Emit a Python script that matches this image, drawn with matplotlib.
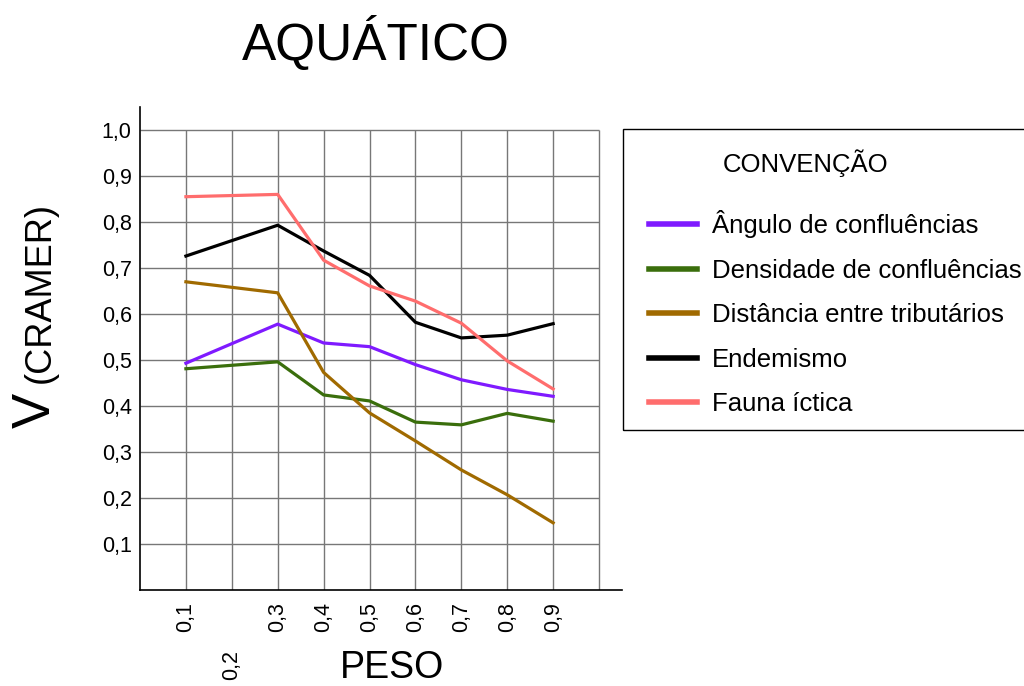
import matplotlib
matplotlib.use("Agg")
import matplotlib.pyplot as plt
from matplotlib.patches import Rectangle
from matplotlib.transforms import ScaledTranslation

plt.rcParams["font.family"] = ["Liberation Sans", "DejaVu Sans"]

# pesos avaliados (não há valor para 0,2)
peso = [0.1, 0.3, 0.4, 0.5, 0.6, 0.7, 0.8, 0.9]
x_ticks = [0.1, 0.2, 0.3, 0.4, 0.5, 0.6, 0.7, 0.8, 0.9]
x_tick_labels = ["0,1", "0,2", "0,3", "0,4", "0,5", "0,6", "0,7", "0,8", "0,9"]
y_ticks = [0.1, 0.2, 0.3, 0.4, 0.5, 0.6, 0.7, 0.8, 0.9, 1.0]
y_tick_labels = ["0,1", "0,2", "0,3", "0,4", "0,5", "0,6", "0,7", "0,8", "0,9", "1,0"]

angulo = [0.493, 0.578, 0.537, 0.529, 0.490, 0.457, 0.436, 0.421]
densidade = [0.481, 0.496, 0.424, 0.411, 0.365, 0.359, 0.384, 0.367]
distancia = [0.670, 0.646, 0.473, 0.385, 0.324, 0.261, 0.207, 0.146]
endemismo = [0.726, 0.793, 0.737, 0.684, 0.582, 0.548, 0.554, 0.579]
fauna = [0.855, 0.860, 0.717, 0.661, 0.628, 0.580, 0.498, 0.437]

series = [
    ("Ângulo de confluências", angulo, "#7f1aff"),
    ("Densidade de confluências", densidade, "#3a6e0c"),
    ("Distância entre tributários", distancia, "#a06a00"),
    ("Endemismo", endemismo, "#000000"),
    ("Fauna íctica", fauna, "#ff6d6d"),
]

fig = plt.figure(figsize=(10.24, 6.86), dpi=100)
ax = fig.add_axes([140 / 1024, 1 - 590 / 686, 482 / 1024, 483 / 686])
ax.set_xlim(0, 1.05)
ax.set_ylim(0, 1.05)

# grade só até 1,0
grid_pos = [0.1, 0.2, 0.3, 0.4, 0.5, 0.6, 0.7, 0.8, 0.9, 1.0]
ax.vlines(grid_pos, 0, 1.0, color="#777777", lw=1, zorder=1)
ax.hlines(grid_pos, 0, 1.0, color="#777777", lw=1, zorder=1)

for label, vals, color in series:
    ax.plot(peso, vals, color=color, lw=2.3, label=label, zorder=3)

ax.spines["top"].set_visible(False)
ax.spines["right"].set_visible(False)
ax.spines["left"].set_linewidth(1.2)
ax.spines["bottom"].set_linewidth(1.2)

ax.set_xticks(x_ticks)
ax.set_xticklabels(x_tick_labels, rotation=90, fontsize=15.5)
ax.set_yticks(y_ticks)
ax.set_yticklabels(y_tick_labels, fontsize=15.5)
ax.tick_params(axis="both", length=0)
ax.tick_params(axis="x", pad=9)
ax.tick_params(axis="y", pad=6)
# rótulo 0,2 deslocado para baixo
ax.xaxis.get_major_ticks()[1].set_pad(43)

fig.text(376 / 1024, 1 - 60 / 686, "AQUÁTICO", fontsize=37, ha="center", va="baseline")
fig.text(392 / 1024, 1 - 678 / 686, "PESO", fontsize=27, ha="center", va="baseline")
fig.text(50 / 1024, 1 - 428 / 686, "V", fontsize=38, rotation=90,
         rotation_mode="anchor", ha="left", va="baseline")
fig.text(50 / 1024, 1 - 383 / 686, "(CRAMER)", fontsize=26, rotation=90,
         rotation_mode="anchor", ha="left", va="baseline")

# caixa da legenda desenhada à parte
fig.patches.append(Rectangle((623 / 1024, 1 - 430 / 686), 420 / 1024, 301 / 686,
                             transform=fig.transFigure, fill=False,
                             edgecolor="black", linewidth=1.0))

leg = ax.legend(loc="upper left", bbox_to_anchor=(649 / 1024, 1 - 149 / 686),
                bbox_transform=fig.transFigure, borderaxespad=0,
                title="CONVENÇÃO", fontsize=18.5, title_fontsize=18.5,
                alignment="left", frameon=False, handlelength=1.85,
                handletextpad=0.6, labelspacing=0.8, borderpad=0)
leg._legend_box.sep = 24
title = leg.get_title()
title.set_transform(title.get_transform()
                    + ScaledTranslation(0.74, 0, fig.dpi_scale_trans))
for line in leg.get_lines():
    line.set_linewidth(4)

fig.savefig("out.png", dpi=100)
